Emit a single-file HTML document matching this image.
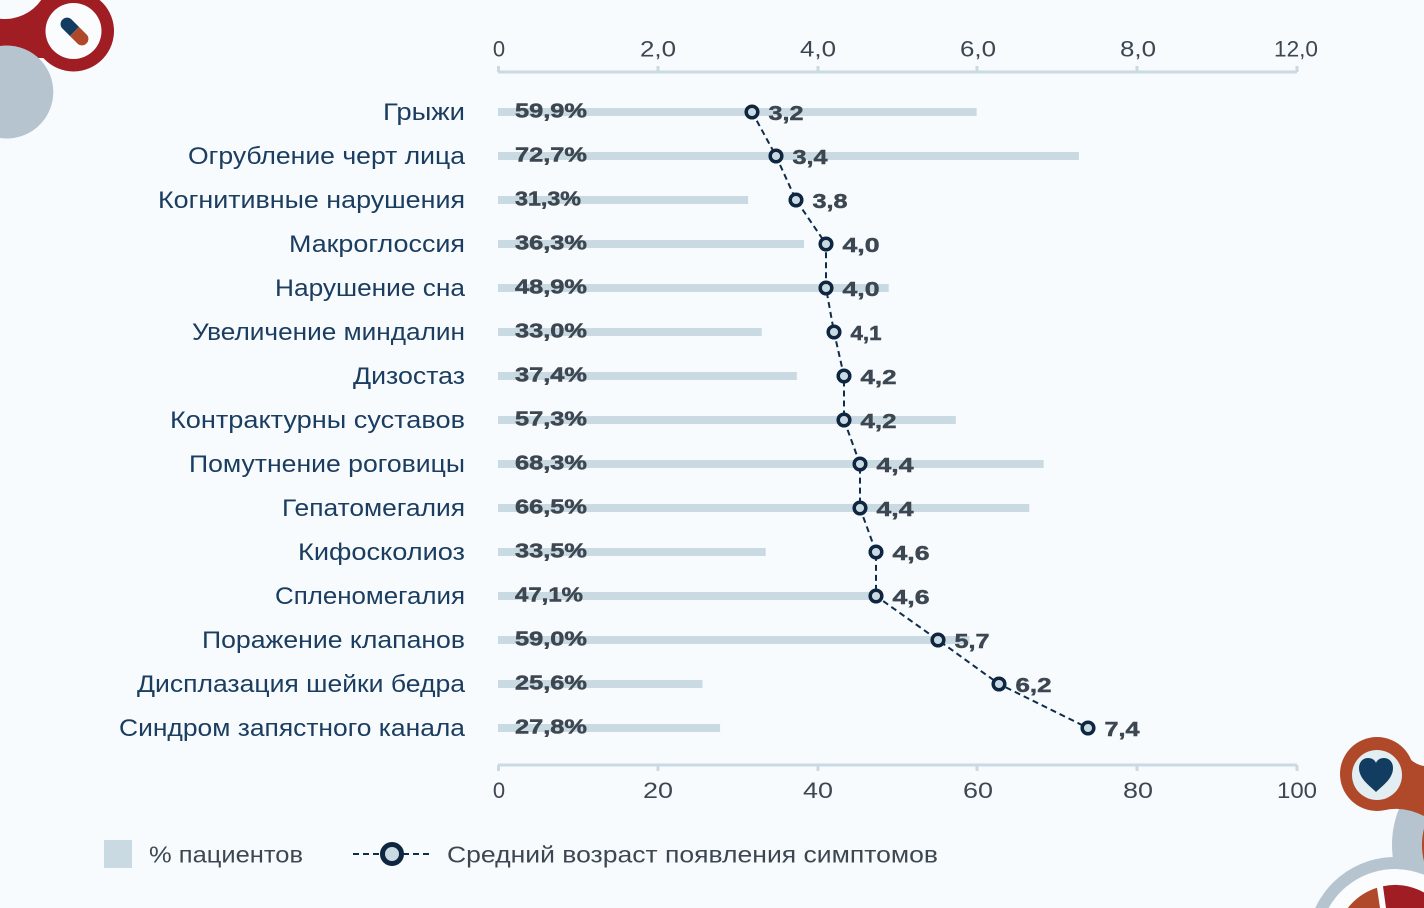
<!DOCTYPE html>
<html>
<head>
<meta charset="utf-8">
<style>
  html,body{margin:0;padding:0;background:#f7fbfe;width:1424px;height:908px;overflow:hidden;}
  svg{display:block;}
  .cat{font-family:"Liberation Sans","Noto Sans CJK SC",sans-serif;font-size:24px;fill:#1b3d60;}
  .pct{font-family:"Liberation Sans",sans-serif;font-size:20.5px;font-weight:bold;fill:#3d4752;stroke:#3d4752;stroke-width:0.5px;}
  .val{font-family:"Liberation Sans",sans-serif;font-size:20.5px;font-weight:bold;fill:#3d4752;stroke:#3d4752;stroke-width:0.5px;}
  .ax{font-family:"Liberation Sans",sans-serif;font-size:22px;fill:#3d4752;}
  .leg{font-family:"Liberation Sans","Noto Sans CJK SC",sans-serif;font-size:23px;fill:#3d4752;}
</style>
</head>
<body>
<svg width="1424" height="908" viewBox="0 0 1424 908" xmlns="http://www.w3.org/2000/svg">
  <rect x="0" y="0" width="1424" height="908" fill="#f7fbfe"/>

  <!-- top-left decoration -->
  <path d="M0,18.7 A44,44 0 0 0 41.2,0 L80,0 L80,58 L0,58 Z" fill="#a01d24"/>
  <path d="M47.4,0 A40.5,40.5 0 1 0 99.6,0 Z" fill="#a01d24"/>
  <path d="M0,46 A46.5,46.5 0 1 1 0,138 Z" fill="#b5c4cf"/>
  <circle cx="73.5" cy="31" r="28" fill="#fafcfe"/>
  <g transform="rotate(45 74.5 31.5)">
    <clipPath id="pl"><rect x="57.5" y="25" width="34" height="13" rx="6.5"/></clipPath>
    <g clip-path="url(#pl)">
      <rect x="57.5" y="25" width="17" height="13" fill="#123d61"/>
      <rect x="74.5" y="25" width="17" height="13" fill="#b0492a"/>
    </g>
  </g>

  <!-- bottom-right decoration -->
  <path d="M1424,772.6 A98,98 0 0 0 1414.9,908 L1424,908 Z" fill="#b5c4cf"/>
  <path d="M1424,828.6 A68,68 0 0 0 1424,861.4 Z" fill="#b0492a"/>
  <path d="M1315.2,908 A88,88 0 0 1 1424,861.9 L1424,908 Z" fill="#b5c4cf"/>
  <path d="M1328.6,908 A76,76 0 0 1 1424,874.8 L1424,908 Z" fill="#fafcfe"/>
  <path d="M1347.8,908 A60,60 0 0 1 1377,887.8 L1380,908 Z" fill="#b0492a"/>
  <path d="M1383,886.2 A60,60 0 0 1 1424,892.5 L1424,908 L1386,908 Z" fill="#a01d24"/>
  <path d="M1398,744 Q1410,764 1424,766 L1424,816 Q1404,806 1385,810 Z" fill="#b0492a"/>
  <circle cx="1377" cy="774" r="37" fill="#b0492a"/>
  <circle cx="1377" cy="775" r="25" fill="#e3eef2"/>
  <path d="M1376,792 C1370,786 1359,779 1359,768 C1359,762 1363,758 1368,758 C1372,758 1375,760 1376,763 C1377,760 1380,758 1384,758 C1389,758 1393,762 1393,768 C1393,779 1382,786 1376,792 Z" fill="#123d61"/>

  <!-- top axis -->
  <g stroke="#c9dae2" stroke-width="3" fill="none">
    <line x1="498" y1="72" x2="1297" y2="72"/>
    <line x1="498.5" y1="66" x2="498.5" y2="72"/>
    <line x1="658" y1="66" x2="658" y2="72"/>
    <line x1="818" y1="66" x2="818" y2="72"/>
    <line x1="977" y1="66" x2="977" y2="72"/>
    <line x1="1137" y1="66" x2="1137" y2="72"/>
    <line x1="1297" y1="66" x2="1297" y2="72"/>
  </g>
  <g class="ax" text-anchor="middle">
    <text x="499" y="56.5">0</text>
    <text x="658" y="56.5" textLength="36" lengthAdjust="spacingAndGlyphs">2,0</text>
    <text x="818" y="56.5" textLength="36" lengthAdjust="spacingAndGlyphs">4,0</text>
    <text x="978" y="56.5" textLength="36" lengthAdjust="spacingAndGlyphs">6,0</text>
    <text x="1138" y="56.5" textLength="36" lengthAdjust="spacingAndGlyphs">8,0</text>
    <text x="1296" y="56.5" textLength="44" lengthAdjust="spacingAndGlyphs">12,0</text>
  </g>

  <!-- bottom axis -->
  <g stroke="#c9dae2" stroke-width="3" fill="none">
    <line x1="498" y1="765" x2="1297" y2="765"/>
    <line x1="498.5" y1="765" x2="498.5" y2="771"/>
    <line x1="658" y1="765" x2="658" y2="771"/>
    <line x1="818" y1="765" x2="818" y2="771"/>
    <line x1="977" y1="765" x2="977" y2="771"/>
    <line x1="1137" y1="765" x2="1137" y2="771"/>
    <line x1="1297" y1="765" x2="1297" y2="771"/>
  </g>
  <g class="ax" text-anchor="middle">
    <text x="499" y="798">0</text>
    <text x="658" y="798" textLength="30" lengthAdjust="spacingAndGlyphs">20</text>
    <text x="818" y="798" textLength="30" lengthAdjust="spacingAndGlyphs">40</text>
    <text x="978" y="798" textLength="30" lengthAdjust="spacingAndGlyphs">60</text>
    <text x="1138" y="798" textLength="30" lengthAdjust="spacingAndGlyphs">80</text>
    <text x="1297" y="798" textLength="40" lengthAdjust="spacingAndGlyphs">100</text>
  </g>

  <!-- bars -->
  <g fill="#c9dae2">
    <rect x="498" y="108" width="478.6" height="8"/>
    <rect x="498" y="152" width="580.9" height="8"/>
    <rect x="498" y="196" width="250.1" height="8"/>
    <rect x="498" y="240" width="306" height="8"/>
    <rect x="498" y="284" width="390.7" height="8"/>
    <rect x="498" y="328" width="263.7" height="8"/>
    <rect x="498" y="372" width="298.8" height="8"/>
    <rect x="498" y="416" width="457.8" height="8"/>
    <rect x="498" y="460" width="545.7" height="8"/>
    <rect x="498" y="504" width="531.3" height="8"/>
    <rect x="498" y="548" width="267.7" height="8"/>
    <rect x="498" y="592" width="376.3" height="8"/>
    <rect x="498" y="636" width="471.4" height="8"/>
    <rect x="498" y="680" width="204.5" height="8"/>
    <rect x="498" y="724" width="222.1" height="8"/>
  </g>

  <!-- category labels -->
  <g class="cat" text-anchor="end">
    <text x="465" y="120" textLength="82" lengthAdjust="spacingAndGlyphs">Грыжи</text>
    <text x="465" y="164" textLength="277" lengthAdjust="spacingAndGlyphs">Огрубление черт лица</text>
    <text x="465" y="208" textLength="307" lengthAdjust="spacingAndGlyphs">Когнитивные нарушения</text>
    <text x="465" y="252" textLength="176" lengthAdjust="spacingAndGlyphs">Макроглоссия</text>
    <text x="465" y="296" textLength="190" lengthAdjust="spacingAndGlyphs">Нарушение сна</text>
    <text x="465" y="340" textLength="273" lengthAdjust="spacingAndGlyphs">Увеличение миндалин</text>
    <text x="465" y="384" textLength="112" lengthAdjust="spacingAndGlyphs">Дизостаз</text>
    <text x="465" y="428" textLength="295" lengthAdjust="spacingAndGlyphs">Контрактурны суставов</text>
    <text x="465" y="472" textLength="276" lengthAdjust="spacingAndGlyphs">Помутнение роговицы</text>
    <text x="465" y="516" textLength="183" lengthAdjust="spacingAndGlyphs">Гепатомегалия</text>
    <text x="465" y="560" textLength="167" lengthAdjust="spacingAndGlyphs">Кифосколиоз</text>
    <text x="465" y="604" textLength="190" lengthAdjust="spacingAndGlyphs">Спленомегалия</text>
    <text x="465" y="648" textLength="263" lengthAdjust="spacingAndGlyphs">Поражение клапанов</text>
    <text x="465" y="692" textLength="328" lengthAdjust="spacingAndGlyphs">Дисплазация шейки бедра</text>
    <text x="465" y="736" textLength="346" lengthAdjust="spacingAndGlyphs">Синдром запястного канала</text>
  </g>

  <!-- percent labels -->
  <g class="pct">
    <text x="515" y="117.3" textLength="72" lengthAdjust="spacingAndGlyphs">59,9%</text>
    <text x="515" y="161.3" textLength="72" lengthAdjust="spacingAndGlyphs">72,7%</text>
    <text x="515" y="205.3" textLength="66" lengthAdjust="spacingAndGlyphs">31,3%</text>
    <text x="515" y="249.3" textLength="72" lengthAdjust="spacingAndGlyphs">36,3%</text>
    <text x="515" y="293.3" textLength="72" lengthAdjust="spacingAndGlyphs">48,9%</text>
    <text x="515" y="337.3" textLength="72" lengthAdjust="spacingAndGlyphs">33,0%</text>
    <text x="515" y="381.3" textLength="72" lengthAdjust="spacingAndGlyphs">37,4%</text>
    <text x="515" y="425.3" textLength="72" lengthAdjust="spacingAndGlyphs">57,3%</text>
    <text x="515" y="469.3" textLength="72" lengthAdjust="spacingAndGlyphs">68,3%</text>
    <text x="515" y="513.3" textLength="72" lengthAdjust="spacingAndGlyphs">66,5%</text>
    <text x="515" y="557.3" textLength="72" lengthAdjust="spacingAndGlyphs">33,5%</text>
    <text x="515" y="601.3" textLength="68" lengthAdjust="spacingAndGlyphs">47,1%</text>
    <text x="515" y="645.3" textLength="72" lengthAdjust="spacingAndGlyphs">59,0%</text>
    <text x="515" y="689.3" textLength="72" lengthAdjust="spacingAndGlyphs">25,6%</text>
    <text x="515" y="733.3" textLength="72" lengthAdjust="spacingAndGlyphs">27,8%</text>
  </g>

  <!-- dashed line -->
  <polyline points="752,112 776,156 796,200 826,244 826,288 834,332 844,376 844,420 860,464 860,508 876,552 876,596 938,640 999,684 1088,728"
            fill="none" stroke="#0f2c4a" stroke-width="2" stroke-dasharray="6,4"/>

  <!-- markers -->
  <g fill="#c9dae2" stroke="#0f2640" stroke-width="3.5">
    <circle cx="752" cy="112" r="5.8"/>
    <circle cx="776" cy="156" r="5.8"/>
    <circle cx="796" cy="200" r="5.8"/>
    <circle cx="826" cy="244" r="5.8"/>
    <circle cx="826" cy="288" r="5.8"/>
    <circle cx="834" cy="332" r="5.8"/>
    <circle cx="844" cy="376" r="5.8"/>
    <circle cx="844" cy="420" r="5.8"/>
    <circle cx="860" cy="464" r="5.8"/>
    <circle cx="860" cy="508" r="5.8"/>
    <circle cx="876" cy="552" r="5.8"/>
    <circle cx="876" cy="596" r="5.8"/>
    <circle cx="938" cy="640" r="5.8"/>
    <circle cx="999" cy="684" r="5.8"/>
    <circle cx="1088" cy="728" r="5.8"/>
  </g>

  <!-- value labels -->
  <g class="val">
    <text x="768.5" y="120" textLength="35" lengthAdjust="spacingAndGlyphs">3,2</text>
    <text x="792.5" y="164" textLength="35" lengthAdjust="spacingAndGlyphs">3,4</text>
    <text x="812.5" y="208" textLength="35" lengthAdjust="spacingAndGlyphs">3,8</text>
    <text x="842.5" y="252" textLength="37" lengthAdjust="spacingAndGlyphs">4,0</text>
    <text x="842.5" y="296" textLength="37" lengthAdjust="spacingAndGlyphs">4,0</text>
    <text x="850.5" y="340" textLength="31" lengthAdjust="spacingAndGlyphs">4,1</text>
    <text x="860.5" y="384" textLength="36" lengthAdjust="spacingAndGlyphs">4,2</text>
    <text x="860.5" y="428" textLength="36" lengthAdjust="spacingAndGlyphs">4,2</text>
    <text x="876.5" y="472" textLength="37" lengthAdjust="spacingAndGlyphs">4,4</text>
    <text x="876.5" y="516" textLength="37" lengthAdjust="spacingAndGlyphs">4,4</text>
    <text x="892.5" y="560" textLength="37" lengthAdjust="spacingAndGlyphs">4,6</text>
    <text x="892.5" y="604" textLength="37" lengthAdjust="spacingAndGlyphs">4,6</text>
    <text x="954.5" y="648" textLength="35" lengthAdjust="spacingAndGlyphs">5,7</text>
    <text x="1015.5" y="692" textLength="36" lengthAdjust="spacingAndGlyphs">6,2</text>
    <text x="1104.5" y="736" textLength="35" lengthAdjust="spacingAndGlyphs">7,4</text>
  </g>

  <!-- legend -->
  <rect x="104" y="840" width="28" height="28" fill="#c9dae2"/>
  <text class="leg" x="149" y="862.3" textLength="154" lengthAdjust="spacingAndGlyphs">% пациентов</text>
  <line x1="353" y1="854" x2="431" y2="854" stroke="#0f2c4a" stroke-width="2" stroke-dasharray="6,4"/>
  <circle cx="392" cy="854" r="9.5" fill="#c9dae2" stroke="#0f2640" stroke-width="5"/>
  <text class="leg" x="447" y="862.3" textLength="491" lengthAdjust="spacingAndGlyphs">Средний возраст появления симптомов</text>
</svg>
</body>
</html>
